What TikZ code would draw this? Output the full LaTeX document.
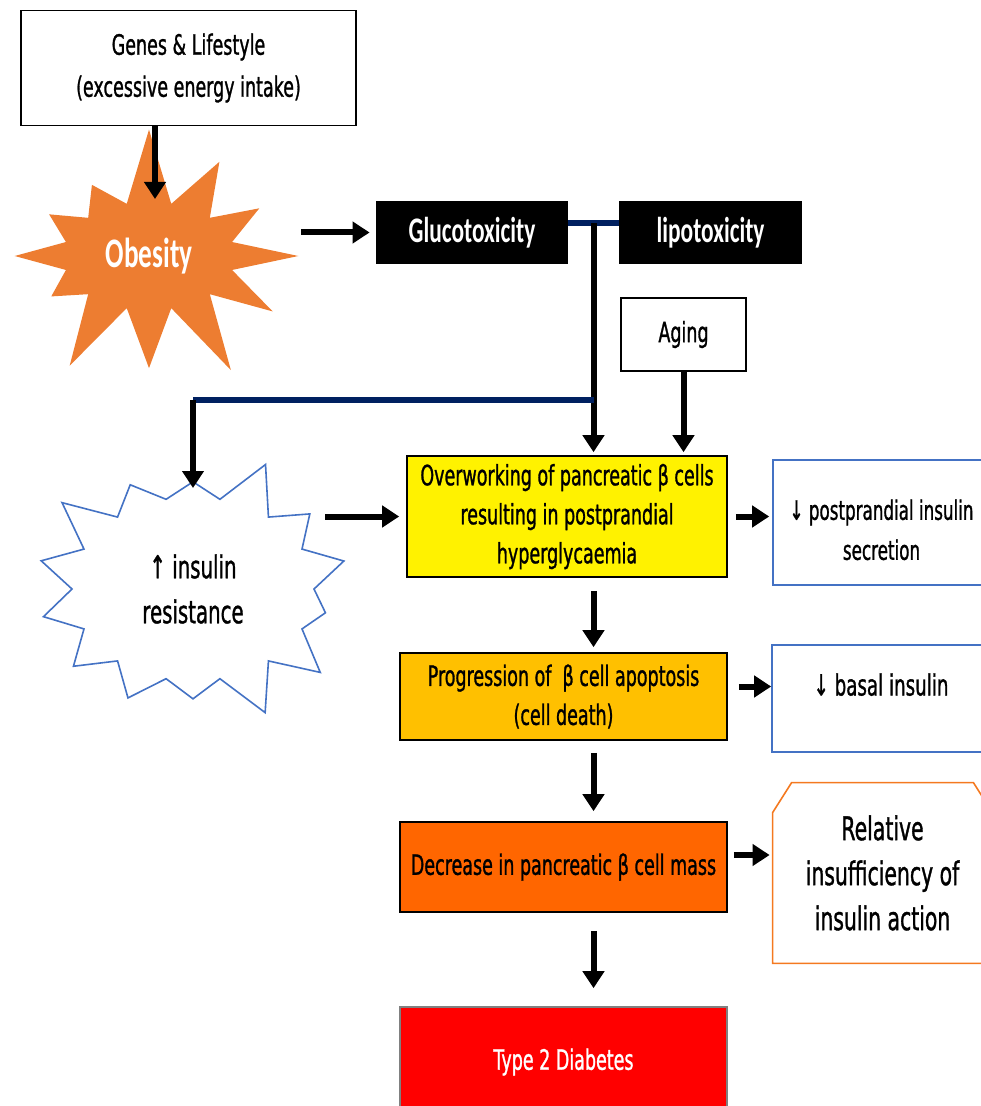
\documentclass[tikz,border=0pt]{standalone}
\usepackage{fontspec}
\setmainfont{DejaVu Sans}[FakeStretch=0.625, FakeBold=1]
\newfontfamily\heavyfont{Carlito}[FakeStretch=0.65]
\usetikzlibrary{arrows.meta,shapes.symbols,calc}

\definecolor{burstorange}{HTML}{ED7D31}
\definecolor{edgeblue}{HTML}{4472C4}
\definecolor{navy}{HTML}{002060}
\definecolor{amber}{HTML}{FFC000}
\definecolor{deeporange}{HTML}{FF6600}
\definecolor{snipedge}{HTML}{F47920}

\begin{document}
\begin{tikzpicture}[x=0.5pt,y=-0.5pt,
	box/.style={draw, line width=0.8pt, align=center, inner sep=2pt, font=\fontsize{14}{19.5}\selectfont},
	bluebox/.style={box, draw=edgeblue},
	toxbox/.style={fill=black, text=white, minimum height=31.5pt, font=\heavyfont\bfseries\fontsize{18}{20}\selectfont},
	fatarrow/.style={line width=3pt, -{Triangle[length=8.5pt,width=10.5pt]}},
	navyline/.style={navy, line width=3pt}]
	\useasboundingbox (0,0) rectangle (980,1106);

	% top part
	\node[box, minimum width=167.5pt, minimum height=57.5pt, font=\fontsize{14}{21}\selectfont] (genes) at (188.5,68) {Genes \& Lifestyle\\(excessive energy intake)};
	\node[starburst, starburst points=12, starburst point height=40pt, random starburst=7, fill=burstorange, minimum width=166pt, minimum height=134pt, text=white, font=\heavyfont\bfseries\fontsize{21}{24}\selectfont] (obesity) at (149,256) {Obesity};
	\node[toxbox, minimum width=96pt] (gluco) at (472,232.5) {Glucotoxicity};
	\node[toxbox, minimum width=91.5pt] (lipo) at (710.5,232.5) {lipotoxicity};
	\node[box, minimum width=62.5pt, minimum height=36.5pt] (aging) at (683.5,334.5) {Aging};
	\node[starburst, starburst points=14, starburst point height=24pt, random starburst=3, draw=edgeblue, line width=0.8pt, fill=white, minimum width=169pt, minimum height=140pt, align=center, font=\fontsize{15.8}{22.5}\selectfont] (resist) at (193,589) {↑ insulin\\resistance};

	% main column
	\node[box, fill=yellow, minimum width=160pt, minimum height=60.5pt] (over) at (567,516.5) {Overworking of pancreatic β cells\\resulting in postprandial\\hyperglycaemia};
	\node[box, fill=amber, minimum width=163.5pt, minimum height=43.5pt] (prog) at (563.5,696.5) {Progression of~ β cell apoptosis\\(cell death)};
	\node[box, fill=deeporange, minimum width=163.5pt, minimum height=45pt] (dec) at (563.5,867) {Decrease in pancreatic β cell mass};
	\node[box, draw=gray, fill=red, text=white, minimum width=163.5pt, minimum height=55pt] (t2d) at (563.5,1062) {Type 2 Diabetes};

	% right column
	\node[bluebox, minimum width=108.5pt, minimum height=62.5pt, text height=37.5pt, font=\fontsize{13.4}{20}\selectfont] (post) at (881.5,522.5) {↓ postprandial insulin\\secretion};
	\node[bluebox, minimum width=109pt, minimum height=53.5pt, text height=10pt, text depth=13pt, font=\fontsize{14.6}{20}\selectfont] (basal) at (881,698.5) {↓ basal insulin};
	\node[minimum width=109.5pt, minimum height=90pt, align=center, font=\fontsize{16.3}{22.5}\selectfont] (rel) at (882.5,873) {Relative\\insufficiency of\\insulin action};
	\draw[snipedge, line width=0.8pt] (rel.south west) -- ([yshift=-15pt]rel.north west) -- ([xshift=9.5pt]rel.north west) -- ([xshift=-9.5pt]rel.north east) -- ([yshift=-15pt]rel.north east) -- (rel.south east) -- cycle;

	% connectors
	\coordinate (tox) at ($(gluco.east)!.5!(lipo.west)+(0,-9)$);
	\coordinate (bend) at (tox |- 0,400);
	\draw[fatarrow, shorten >=28.5pt] ([xshift=3pt]genes.south -| obesity.center) -- ([xshift=3pt]obesity.center);
	\draw[fatarrow, shorten <=76pt, shorten >=3pt] (obesity |- gluco) -- (gluco.west);
	\draw[navyline] ([yshift=4.5pt]gluco.east) -- ([yshift=4.5pt]lipo.west);
	\draw[fatarrow, shorten >=1.5pt] (tox) -- (tox |- over.north);
	\draw[navyline] (bend) -- (bend -| resist.center);
	\draw[fatarrow, shorten >=50.5pt] (bend -| resist.center) -- (resist.center);
	\draw[fatarrow, shorten >=1.5pt] (aging.south) -- (aging.south |- over.north);
	\draw[fatarrow, shorten <=66pt, shorten >=3.5pt] (over.west -| resist.center) -- (over.west);
	\draw[fatarrow, shorten <=4pt, shorten >=1.5pt] (over.east) -- (over.east -| post.west);
	\draw[fatarrow, shorten <=6.5pt, shorten >=2.5pt] (tox |- over.south) -- (tox |- prog.north);
	\draw[fatarrow, shorten <=5.5pt, shorten >=0pt] ([yshift=5pt]prog.east) -- ([yshift=6pt]basal.west);
	\draw[fatarrow, shorten <=6pt, shorten >=5pt] (tox |- prog.south) -- (tox |- dec.north);
	\draw[fatarrow, shorten <=3pt, shorten >=1.5pt] ([yshift=6pt]dec.east) -- ([yshift=9pt]rel.west);
	\draw[fatarrow, shorten <=9pt, shorten >=9pt] (tox |- dec.south) -- (tox |- t2d.north);
\end{tikzpicture}
\end{document}
